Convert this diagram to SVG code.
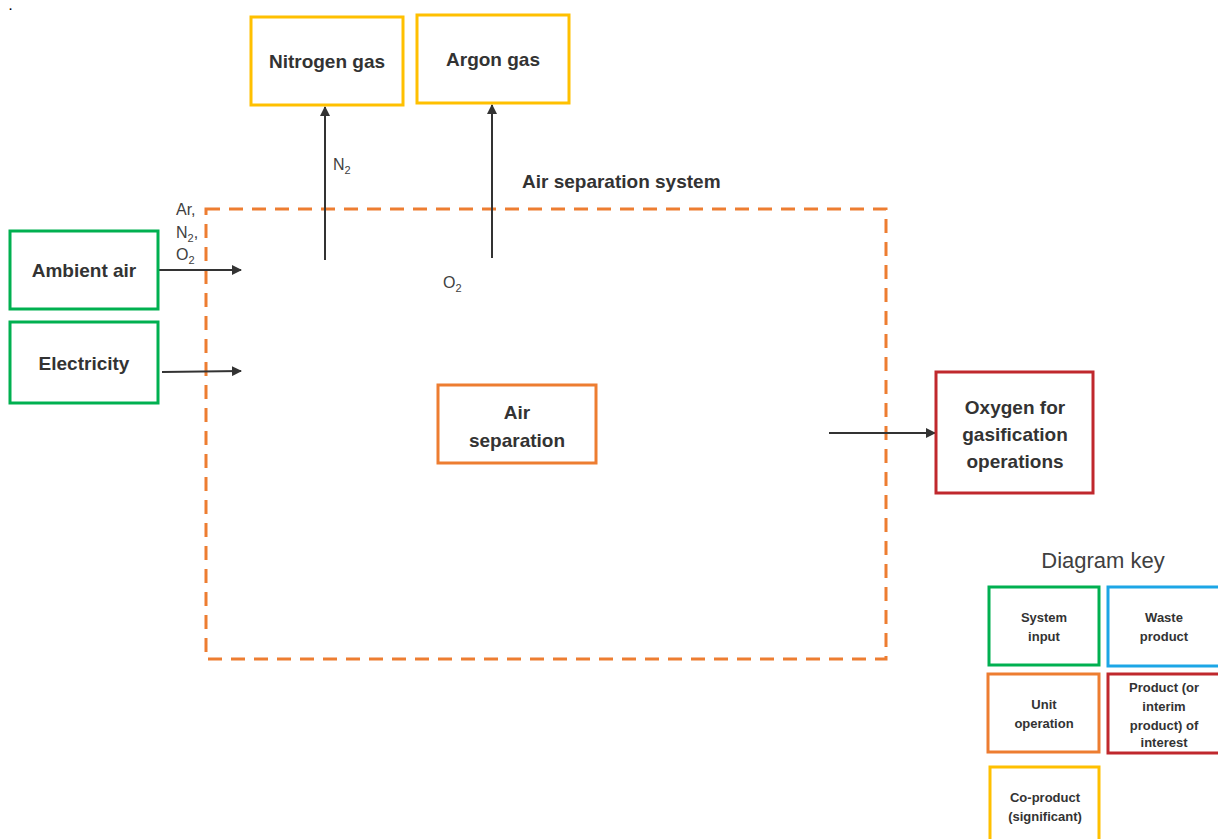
<svg xmlns="http://www.w3.org/2000/svg" width="1218" height="839" viewBox="0 0 1218 839">
<style>
.box{fill:#fff;stroke-width:3}
.g{stroke:#00B050}.y{stroke:#FFC000}.o{stroke:#ED7D31}.r{stroke:#C0282D}.b{stroke:#1CA6E6}
.t{font-family:"Liberation Sans",Arial,sans-serif;font-weight:bold;font-size:19px;fill:#333;text-anchor:middle}
.k{font-family:"Liberation Sans",Arial,sans-serif;font-weight:bold;font-size:13px;fill:#333;text-anchor:middle}
.s{font-family:"Liberation Sans",Arial,sans-serif;font-size:16px;fill:#404040}
.sub{font-size:11px}
.c{stroke:#333;stroke-width:2;fill:none;marker-end:url(#ah)}
</style>
<defs>
<marker id="ah" viewBox="0 0 10 10" refX="9" refY="5" markerWidth="10" markerHeight="10" markerUnits="userSpaceOnUse" orient="auto">
<path d="M0,0 L10,5 L0,10 z" fill="#333"/>
</marker>
</defs>
<rect width="1218" height="839" fill="#fff"/>
<text x="9" y="10" class="s" style="font-size:11px;font-weight:bold;fill:#000">.</text>
<g id="system-boundary">
<rect x="206" y="209" width="680" height="450" fill="none" stroke="#ED7D31" stroke-width="3" stroke-dasharray="14 9"/>
<text x="522" y="188" class="t" style="text-anchor:start;font-size:19px">Air separation system</text>
</g>
<g id="connectors">
<line x1="325" y1="260" x2="325" y2="107" class="c"/>
<line x1="492" y1="258" x2="492" y2="105" class="c"/>
<line x1="158" y1="270" x2="241" y2="270" class="c"/>
<line x1="162" y1="372" x2="241" y2="371" class="c"/>
<line x1="829" y1="433" x2="935" y2="433" class="c"/>
<text x="176" y="215" class="s">Ar,</text>
<text x="176" y="238" class="s">N<tspan class="sub" dy="4">2</tspan><tspan dy="-4">,</tspan></text>
<text x="176" y="260" class="s">O<tspan class="sub" dy="4">2</tspan></text>
<text x="333" y="170" class="s">N<tspan class="sub" dy="4">2</tspan></text>
<text x="443" y="288" class="s">O<tspan class="sub" dy="4">2</tspan></text>
</g>
<g id="nitrogen-gas"><rect x="251" y="17" width="152" height="88" class="box y"/><text x="327" y="68" class="t">Nitrogen gas</text></g>
<g id="argon-gas"><rect x="417" y="15" width="152" height="88" class="box y"/><text x="493" y="66" class="t">Argon gas</text></g>
<g id="ambient-air"><rect x="10" y="231" width="148" height="78" class="box g"/><text x="84" y="277" class="t">Ambient air</text></g>
<g id="electricity"><rect x="10" y="322" width="148" height="81" class="box g"/><text x="84" y="370" class="t">Electricity</text></g>
<g id="air-separation"><rect x="438" y="385" width="158" height="78" class="box o"/><text x="517" y="419" class="t">Air</text><text x="517" y="447" class="t">separation</text></g>
<g id="oxygen"><rect x="936" y="372" width="157" height="121" class="box r"/><text x="1015" y="414" class="t">Oxygen for</text><text x="1015" y="441" class="t">gasification</text><text x="1015" y="468" class="t">operations</text></g>
<g id="key">
<text x="1103" y="568" class="s" style="font-size:22px;text-anchor:middle">Diagram key</text>
<rect x="989" y="587" width="110" height="78" class="box g"/><text x="1044" y="622" class="k">System</text><text x="1044" y="641" class="k">input</text>
<rect x="1108" y="587" width="112" height="79" class="box b"/><text x="1164" y="622" class="k">Waste</text><text x="1164" y="641" class="k">product</text>
<rect x="988" y="674" width="111" height="78" class="box o"/><text x="1044" y="709" class="k">Unit</text><text x="1044" y="728" class="k">operation</text>
<rect x="1108" y="674" width="112" height="79" class="box r"/><text x="1164" y="692" class="k">Product (or</text><text x="1164" y="711" class="k">interim</text><text x="1164" y="730" class="k">product) of</text><text x="1164" y="747" class="k">interest</text>
<rect x="990" y="767" width="109" height="80" class="box y"/><text x="1045" y="802" class="k">Co-product</text><text x="1045" y="821" class="k">(significant)</text>
</g>
</svg>
